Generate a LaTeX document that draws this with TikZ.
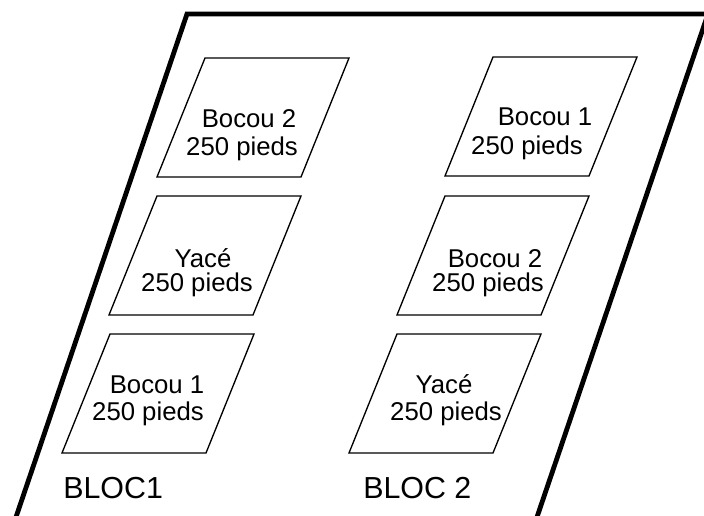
\documentclass[tikz,border=0pt]{standalone}
\usepackage{fontspec}
\setmainfont{Liberation Sans}
\tikzset{
  inbox/.style={draw=black, line width=1pt, line join=miter},
  outerbox/.style={draw=black, line width=3.6pt, line join=miter},
  txt/.style={anchor=base, inner sep=0pt, font=\fontsize{19.3}{22}\selectfont},
  bloc/.style={anchor=base west, inner sep=0pt, font=\fontsize{22.8}{26}\selectfont}
}
\newcommand\plotbox[2]{\draw[inbox] (#1,#2) -- ++(144,0) -- ++(-48,119) -- ++(-144,0) -- cycle;}
\begin{document}
\begin{tikzpicture}[x=0.75pt,y=-0.75pt]
\useasboundingbox (0,0) rectangle (704,515);
\begin{scope}
\clip (0,0) rectangle (704,515);
\draw[outerbox] (8.2,540) -- (187,14) -- (708,14) -- (529.2,540);
\end{scope}
% left column
\plotbox{205}{58}
\plotbox{157}{196}
\plotbox{110}{334}
% right column
\plotbox{493}{57}
\plotbox{445}{196}
\plotbox{397}{334}
% texts
\node[txt] (l1a) at (249,127) {Bocou 2};
\node[txt] (l1b) at (242,155) {250 pieds};
\node[txt] (l2a) at (203,267) {Yacé};
\node[txt] (l2b) at (197,291) {250 pieds};
\node[txt] (l3a) at (157,393) {Bocou 1};
\node[txt] (l3b) at (148,420) {250 pieds};
\node[txt] (r1a) at (545,125) {Bocou 1};
\node[txt] (r1b) at (527,154) {250 pieds};
\node[txt] (r2a) at (495,267) {Bocou 2};
\node[txt] (r2b) at (488,291) {250 pieds};
\node[txt] (r3a) at (444,393) {Yacé};
\node[txt] (r3b) at (446,420) {250 pieds};
\node[bloc] (b1) at (63,498) {BLOC1};
\node[bloc] (b2) at (363,498) {BLOC 2};
\end{tikzpicture}
\end{document}
